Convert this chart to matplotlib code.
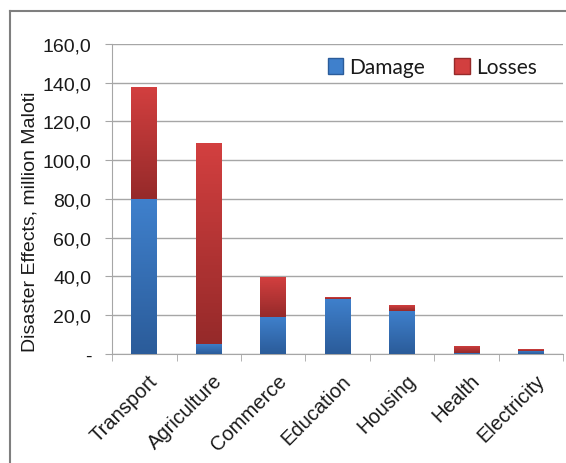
import numpy as np
import matplotlib.pyplot as plt
import matplotlib.ticker as ticker
from matplotlib.colors import LinearSegmentedColormap
from matplotlib.patches import Patch

# ── Data (million Maloti) ─────────────────────────────────────────────────────
sectors = ["Transport", "Agriculture", "Commerce", "Education",
           "Housing", "Health", "Electricity"]
damage = [80.0, 5.2, 19.3, 28.6, 22.4, 0.5, 1.7]
losses = [57.8, 103.7, 20.4, 0.7, 3.0, 3.8, 0.7]

y_ticks = [0, 20, 40, 60, 80, 100, 120, 140, 160]

# ── Style ─────────────────────────────────────────────────────────────────────
BLUE_TOP, BLUE_BOT = "#3f80cc", "#2b5c9a"
RED_TOP, RED_BOT = "#d23f3f", "#962a2a"
GRID = "#a6a6a6"
TXT = "#1a1a1a"

plt.rcParams["font.family"] = ["Liberation Sans", "DejaVu Sans"]

fig = plt.figure(figsize=(5.66, 4.64), dpi=100)
ax = fig.add_axes([0.198, 0.235, 0.797, 0.668])

x = np.arange(len(sectors))
width = 0.4


def gradient_fill(bars, top, bot):
    cmap = LinearSegmentedColormap.from_list("g", [bot, top])
    grad = np.linspace(0, 1, 64).reshape(-1, 1)
    for b in bars:
        x0, y0 = b.get_x(), b.get_y()
        w, h = b.get_width(), b.get_height()
        if h <= 0:
            continue
        im = ax.imshow(grad, cmap=cmap, origin="lower", aspect="auto",
                       extent=(x0, x0 + w, y0, y0 + h), zorder=3)
        im.set_clip_path(b)
        b.set_facecolor("none")


bars_d = ax.bar(x, damage, width, color=BLUE_TOP, zorder=3, linewidth=0)
bars_l = ax.bar(x, losses, width, bottom=damage, color=RED_TOP, zorder=3,
                linewidth=0)
gradient_fill(bars_d, BLUE_TOP, BLUE_BOT)
gradient_fill(bars_l, RED_TOP, RED_BOT)

ax.set_xlim(-0.5, len(sectors) - 0.5)
ax.set_ylim(0, 160)

ax.set_yticks(y_ticks)
ax.yaxis.set_major_formatter(ticker.FuncFormatter(
    lambda v, _: "-" if v == 0 else f"{v:.1f}".replace(".", ",")))
ax.grid(axis="y", color=GRID, linewidth=1, zorder=0)
ax.set_axisbelow(True)

# category labels centred, tick marks between categories
ax.set_xticks(x + 0.06)
ax.set_xticklabels(sectors, rotation=45, ha="right", rotation_mode="anchor",
                   fontsize=14.5, color=TXT)
ax.set_xticks(np.arange(-0.5, len(sectors)), minor=True)
ax.tick_params(axis="x", which="major", length=0, pad=12)
ax.tick_params(axis="x", which="minor", length=5, color=GRID, direction="out")
ax.tick_params(axis="y", length=5, color=GRID, labelsize=14,
               labelcolor=TXT, pad=10)

for s in ("top", "right"):
    ax.spines[s].set_visible(False)
for s in ("left", "bottom"):
    ax.spines[s].set_color(GRID)

ax.set_ylabel("Disaster Effects, million Maloti", fontsize=14, color=TXT)
ax.yaxis.set_label_coords(-0.163, 0.43)

handles = [Patch(facecolor=BLUE_TOP, edgecolor=BLUE_BOT, label="Damage"),
           Patch(facecolor=RED_TOP, edgecolor=RED_BOT, label="Losses")]
ax.legend(handles=handles, loc="center", bbox_to_anchor=(0.764, 0.853),
          bbox_transform=fig.transFigure, ncol=2, frameon=False,
          prop={"family": ["Lato", "DejaVu Sans"], "size": 15},
          handlelength=0.75, handleheight=0.75, handletextpad=0.3,
          columnspacing=1.4, labelcolor=TXT)

# outer chart border (left and top edges visible)
fig.add_artist(plt.Line2D([0.018, 0.018], [0, 0.974], color="#7f7f7f",
                          linewidth=1.5, transform=fig.transFigure))
fig.add_artist(plt.Line2D([0.018, 1.0], [0.974, 0.974], color="#7f7f7f",
                          linewidth=1.5, transform=fig.transFigure))

fig.savefig("out.png", dpi=100, facecolor="white")
